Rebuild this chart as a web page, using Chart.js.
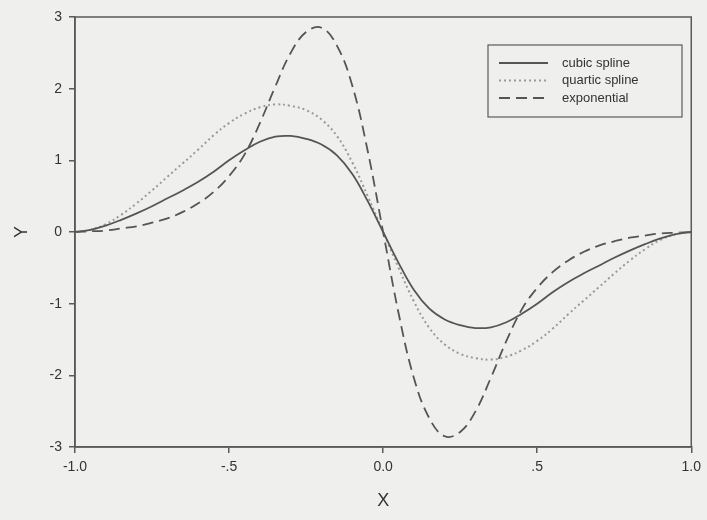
<!DOCTYPE html>
<html>
<head>
<meta charset="utf-8">
<script src="https://cdn.jsdelivr.net/npm/chart.js@4"></script>
<style>
  body { margin: 0; background: #efefed; }
  #wrap { width: 707px; height: 520px; }
</style>
</head>
<body>
<div id="wrap"><canvas id="myChart" width="707" height="520"></canvas></div>
<script>
const ctx = document.getElementById('myChart');

// x positions (every .05)
const xs = [-1.0, -0.95, -0.9, -0.85, -0.8, -0.75, -0.7, -0.65, -0.6, -0.55, -0.5,
  -0.45, -0.4, -0.35, -0.3, -0.25, -0.2, -0.15, -0.1, -0.05, 0,
  0.05, 0.1, 0.15, 0.2, 0.25, 0.3, 0.35, 0.4, 0.45, 0.5,
  0.55, 0.6, 0.65, 0.7, 0.75, 0.8, 0.85, 0.9, 0.95, 1.0];

const cubic = [0, 0.03, 0.09, 0.17, 0.26, 0.36, 0.47, 0.58, 0.70, 0.84, 1.00,
  1.14, 1.26, 1.33, 1.34, 1.30, 1.22, 1.07, 0.81, 0.43, 0,
  -0.43, -0.81, -1.07, -1.22, -1.30, -1.34, -1.33, -1.26, -1.14, -1.00,
  -0.84, -0.70, -0.58, -0.47, -0.36, -0.26, -0.17, -0.09, -0.03, 0];

const quartic = [0, 0.03, 0.11, 0.24, 0.40, 0.58, 0.77, 0.96, 1.15, 1.35, 1.52,
  1.65, 1.74, 1.78, 1.76, 1.70, 1.57, 1.34, 0.97, 0.50, 0,
  -0.50, -0.97, -1.34, -1.57, -1.70, -1.76, -1.78, -1.74, -1.65, -1.52,
  -1.35, -1.15, -0.96, -0.77, -0.58, -0.40, -0.24, -0.11, -0.03, 0];

const expo = [0, 0.01, 0.02, 0.05, 0.08, 0.13, 0.19, 0.28, 0.40, 0.56, 0.78,
  1.08, 1.52, 2.03, 2.50, 2.79, 2.85, 2.60, 2.04, 1.13, 0,
  -1.13, -2.04, -2.60, -2.85, -2.79, -2.50, -2.03, -1.52, -1.08, -0.78,
  -0.56, -0.40, -0.28, -0.19, -0.13, -0.08, -0.05, -0.02, -0.01, 0];

const xTickLabels = ['-1.0', '-.5', '0.0', '.5', '1.0'];
const seriesNames = ['cubic spline', 'quartic spline', 'exponential'];

const axisCol = '#5a5a5a';
const fontFam = '"Liberation Sans", Arial, sans-serif';

function pts(ys) {
  return xs.map((x, i) => ({ x: x, y: ys[i] }));
}

// box round the plot + legend inside it
const framePlugin = {
  id: 'frame',
  afterDraw(chart) {
    const c = chart.ctx;
    const a = chart.chartArea;
    c.save();
    c.strokeStyle = axisCol;
    c.lineWidth = 1.5;
    c.strokeRect(a.left, a.top, a.right - a.left, a.bottom - a.top);

    // legend box
    const bx = 488, by = 45, bw = 194, bh = 72;
    c.lineWidth = 1.2;
    c.strokeRect(bx, by, bw, bh);
    c.font = '13px ' + fontFam;
    c.textBaseline = 'middle';
    chart.data.datasets.forEach((ds, i) => {
      const y = by + 18 + i * 17.5;
      c.beginPath();
      c.strokeStyle = ds.borderColor;
      c.lineWidth = ds.borderWidth;
      c.setLineDash(ds.borderDash || []);
      c.moveTo(bx + 11, y);
      c.lineTo(bx + 60, y);
      c.stroke();
      c.setLineDash([]);
      c.fillStyle = '#333';
      c.fillText(ds.label, bx + 74, y);
    });
    c.restore();
  }
};

let cc = new Chart(ctx, {
  type: 'line',
  data: {
    datasets: [
      { label: seriesNames[0], data: pts(cubic), borderColor: '#555', borderWidth: 1.8, pointRadius: 0, tension: 0.4 },
      { label: seriesNames[1], data: pts(quartic), borderColor: '#9a9a9a', borderWidth: 2, borderDash: [2, 3], pointRadius: 0, tension: 0.4 },
      { label: seriesNames[2], data: pts(expo), borderColor: '#555', borderWidth: 1.8, borderDash: [11, 6], pointRadius: 0, tension: 0.4 }
    ]
  },
  options: {
    responsive: false,
    animation: false,
    layout: { padding: { top: 17, right: 15, left: 0, bottom: 0 } },
    scales: {
      x: {
        type: 'linear',
        min: -1, max: 1,
        afterFit: s => { s.height = 73; },
        afterBuildTicks: s => { s.ticks = xTickLabels.map((t, i) => ({ value: -1 + i * 0.5 })); },
        ticks: {
          padding: 6,
          color: '#333',
          font: { family: fontFam, size: 14 },
          maxRotation: 0,
          callback: (v, i) => xTickLabels[i]
        },
        grid: { display: true, drawOnChartArea: false, drawTicks: true, tickLength: 6, color: axisCol, lineWidth: 1.5 },
        border: { display: true, color: axisCol, width: 1.5 },
        title: { display: true, text: 'X', color: '#333', font: { family: fontFam, size: 18 }, padding: { top: 4, bottom: 8 } }
      },
      y: {
        type: 'linear',
        min: -3, max: 3,
        afterFit: s => { s.width = 75; },
        ticks: {
          stepSize: 1,
          padding: 7,
          color: '#333',
          font: { family: fontFam, size: 14 }
        },
        grid: { display: true, drawOnChartArea: false, drawTicks: true, tickLength: 6, color: axisCol, lineWidth: 1.5 },
        border: { display: true, color: axisCol, width: 1.5 },
        title: { display: true, text: 'Y', color: '#333', font: { family: fontFam, size: 18 }, padding: { top: 11, bottom: 0 } }
      }
    },
    plugins: {
      legend: { display: false },
      tooltip: { enabled: false }
    }
  },
  plugins: [framePlugin]
});
</script>
</body>
</html>
